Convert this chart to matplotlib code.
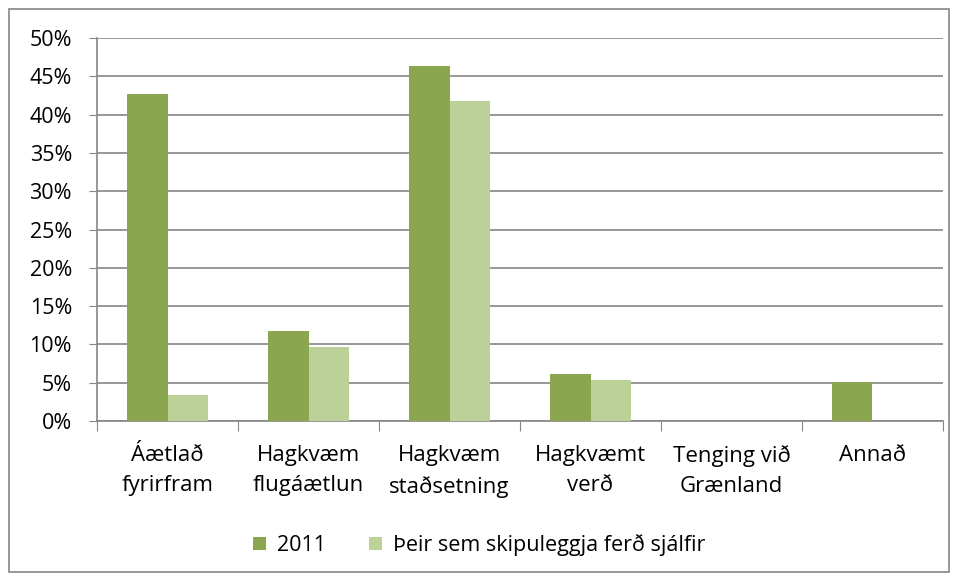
import matplotlib.pyplot as plt
from matplotlib.patches import Rectangle
from matplotlib.ticker import FuncFormatter
import numpy as np

categories = ['Áætlað\nfyrirfram', 'Hagkvæm\nflugáætlun', 'Hagkvæm\nstaðsetning',
              'Hagkvæmt\nverð', 'Tenging við\nGrænland', 'Annað']
series_names = ['2011', 'Þeir sem skipuleggja ferð sjálfir']
vals_2011 = [42.7, 11.7, 46.4, 6.2, 0.0, 5.1]
vals_self = [3.4, 9.7, 41.8, 5.4, 0.0, 0.0]

dark = '#8aa750'
light = '#bbd197'
grid_c = '#868686'
fs = 15.5

plt.rcParams['font.family'] = ['Open Sans', 'DejaVu Sans']

fig = plt.figure(figsize=(9.58, 5.79), dpi=100)
ax = fig.add_axes([97/958, 1-421/579, (943-97)/958, (421-38)/579])

x = np.arange(len(categories))
w = 0.284
ax.bar(x - w/2, vals_2011, w, color=dark, label=series_names[0], zorder=3)
ax.bar(x + w/2, vals_self, w, color=light, label=series_names[1], zorder=3)

ax.set_xlim(-0.5, len(categories) - 0.5)
ax.set_ylim(0, 50)
ax.set_yticks(np.arange(0, 51, 5))
ax.yaxis.set_major_formatter(FuncFormatter(lambda v, p: f'{v:.0f}%'))
ax.yaxis.grid(True, color=grid_c, linewidth=1.2, zorder=0)
ax.tick_params(axis='y', length=6, color=grid_c, labelsize=fs, pad=12, direction='out')

ax.set_xticks(np.arange(-0.5, len(categories), 1))
ax.set_xticklabels([])
ax.tick_params(axis='x', which='major', length=7, color=grid_c, direction='out')
ax.set_xticks(x, minor=True)
ax.set_xticklabels(categories, minor=True, fontsize=16, linespacing=1.6)
ax.tick_params(axis='x', which='minor', length=0, pad=17)

for s in ['top', 'right']:
    ax.spines[s].set_visible(False)
for s in ['left', 'bottom']:
    ax.spines[s].set_color(grid_c)
    ax.spines[s].set_linewidth(1.2)

fig.legend(loc='center', bbox_to_anchor=(0.5, 1-545/579), ncol=2, frameon=False,
           fontsize=fs, handlelength=0.6, handleheight=0.6, handletextpad=0.5,
           columnspacing=2.0)

fig.patches.append(Rectangle((9/958, 1-572/579), 940/958, 563/579, transform=fig.transFigure,
                             fill=False, edgecolor='#868686', linewidth=1.2))

fig.savefig('out.png', dpi=100)
